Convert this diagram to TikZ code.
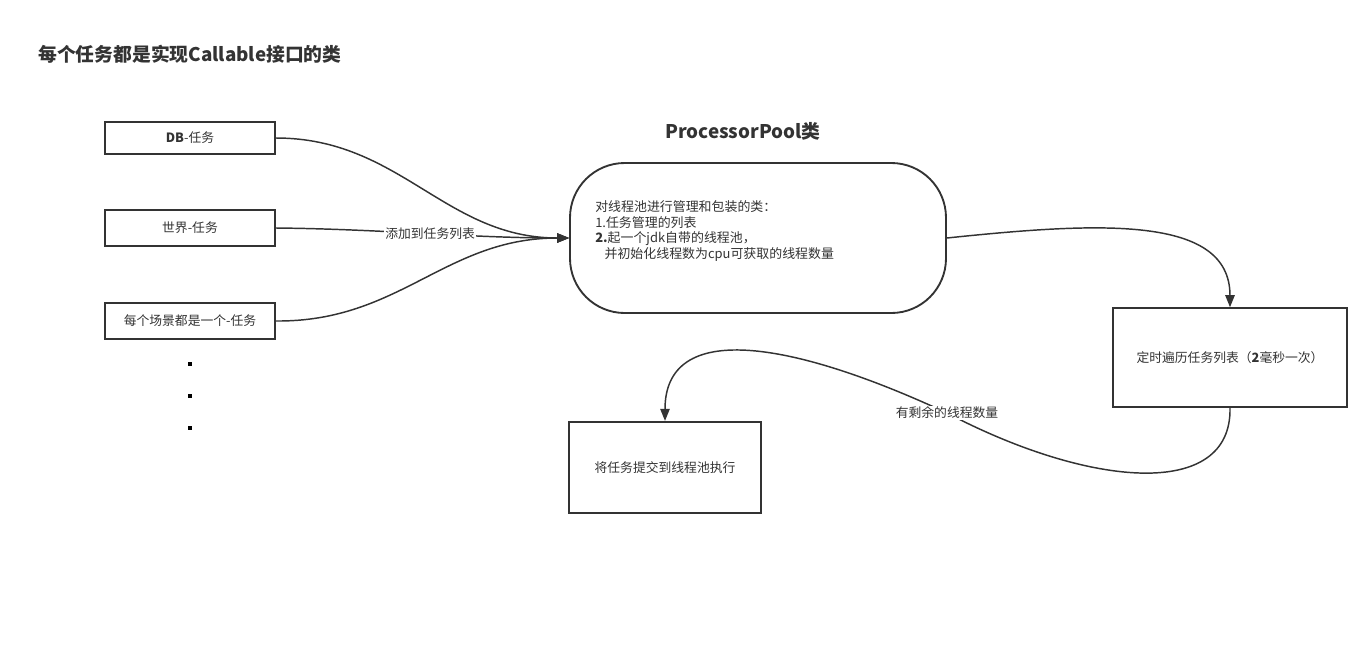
\documentclass[tikz,border=0pt]{standalone}
\usepackage{fontspec}
\setmainfont{Noto Sans CJK SC}
\usetikzlibrary{arrows.meta}
\definecolor{ink}{HTML}{333333}
\tikzset{
  box/.style={draw=ink, line width=1.4pt, fill=white, inner sep=0pt, text=ink, font=\fontsize{9.6pt}{11pt}\selectfont},
  conn/.style={draw=ink, line width=1.1pt, -{Triangle[length=9pt,width=7pt]}},
  lbl/.style={fill=white, text=ink, inner sep=1pt, font=\fontsize{9.6pt}{11pt}\selectfont},
  heading/.style={text=ink, inner sep=0pt, font=\bfseries\fontsize{14.1pt}{16pt}\selectfont},
  dotmark/.style={fill=black, inner sep=0pt, minimum size=2.8pt},
}
\begin{document}
\begin{tikzpicture}[x=0.75pt,y=-0.75pt]
\useasboundingbox (0,0) rectangle (1372,658);
% title
\node[heading, anchor=west] (title) at (38,54) {每个任务都是实现Callable接口的类};
\node[heading] (pooltitle) at (743,131) {ProcessorPool类};
% task boxes
\node[box, minimum width=127.5pt, minimum height=24pt] (db) at (190,138) {\textbf{DB}-任务};
\node[box, minimum width=127.5pt, minimum height=27pt] (world) at (190,228) {世界-任务};
\node[box, minimum width=127.5pt, minimum height=27pt] (scene) at (190,321) {每个场景都是一个-任务};
% dots
\node[dotmark] (d1) at (190,364) {};
\node[dotmark] (d2) at (190,396) {};
\node[dotmark] (d3) at (190,428) {};
% pool
\node[draw=ink, line width=1.4pt, fill=white, minimum width=282pt, minimum height=112.5pt, rounded corners=41pt] (pool) at (758,238) {};
\node[anchor=west, align=left, text=ink, inner sep=0pt, font=\fontsize{9.7pt}{11.8pt}\selectfont] (pooltext) at (595,231)
  {对线程池进行管理和包装的类：\\1.任务管理的列表\\\textbf{2.}起一个jdk自带的线程池，\\\hspace{7pt}并初始化线程数为cpu可获取的线程数量};
% right box
\node[box, minimum width=175.5pt, minimum height=74pt] (timer) at (1230,357.5) {定时遍历任务列表（\textbf{2}毫秒一次）};
% bottom box
\node[box, minimum width=144pt, minimum height=68.5pt] (submit) at (665,467.5) {将任务提交到线程池执行};
% connectors
\draw[conn] (db.east) .. controls (400,138) and (445,238) .. (pool.west);
\draw[conn] (scene.east) .. controls (400,322) and (445,238) .. (pool.west);
\draw[conn] (world.east) .. controls (380,229) and (470,238) .. node[lbl, pos=0.52] (addlbl) {添加到任务列表} (pool.west);
\draw[conn] (pool.east) .. controls (1100,222) and (1230,215) .. (timer.north);
\draw[conn] (timer.south) .. controls (1232,500) and (1090,488) .. (947,413) node[lbl] (freelbl) {有剩余的线程数量}
   .. controls (790,340) and (665,320) .. (submit.north);
\end{tikzpicture}
\end{document}
